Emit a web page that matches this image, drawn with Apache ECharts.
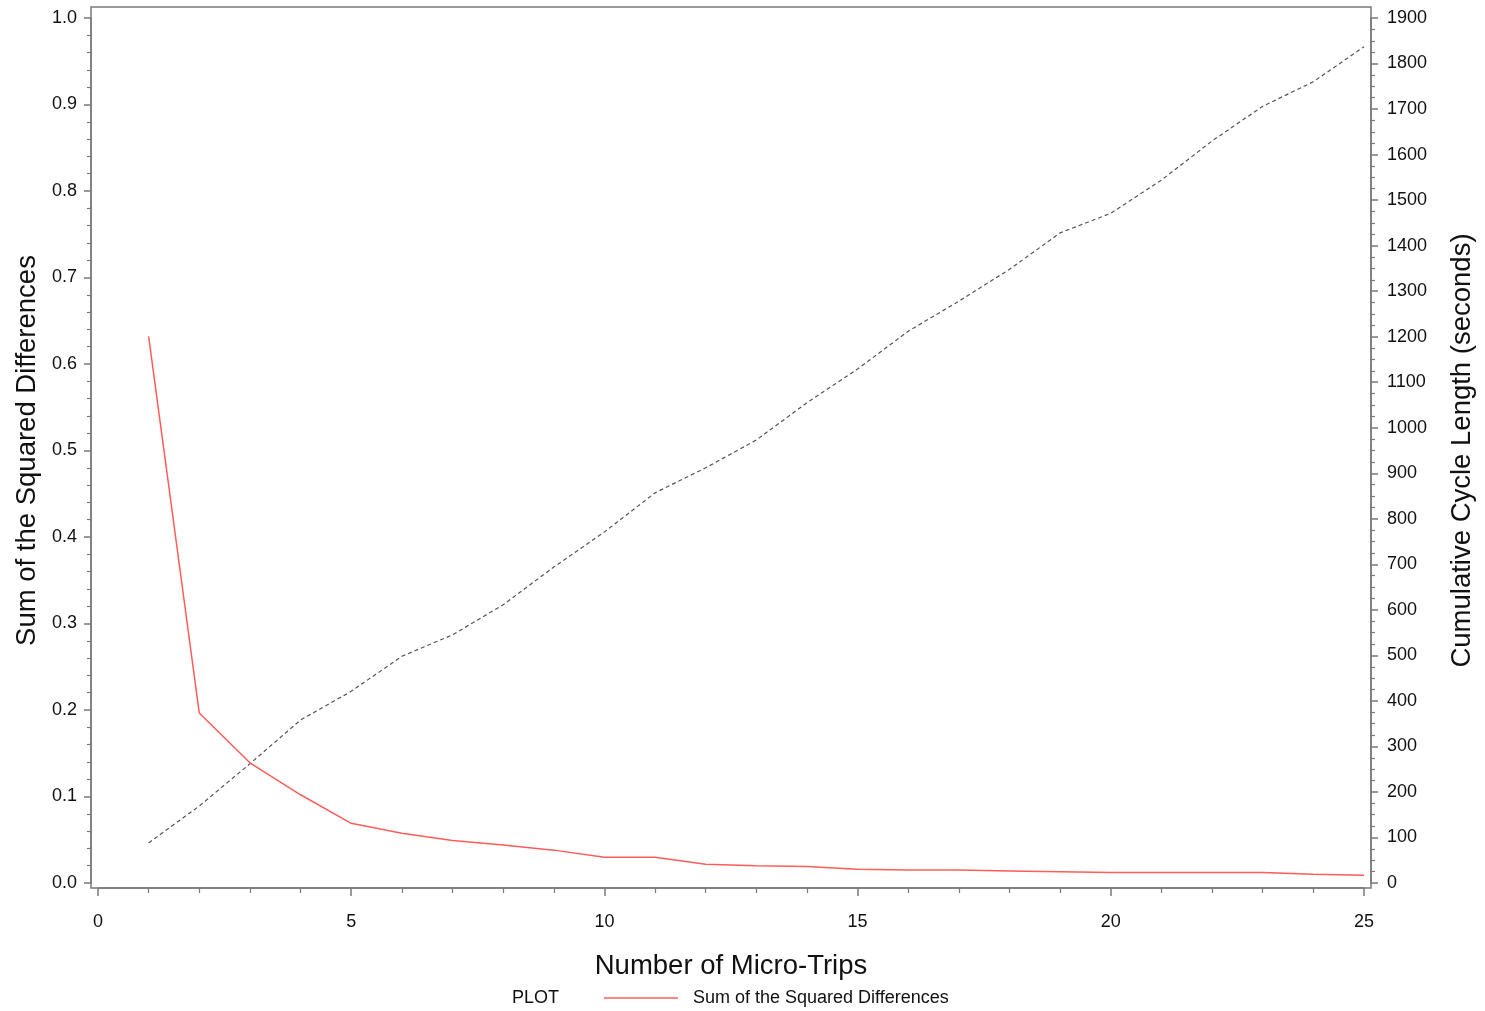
<!DOCTYPE html>
<html>
<head>
<meta charset="utf-8">
<script src="https://cdn.jsdelivr.net/npm/echarts@6/dist/echarts.min.js"></script>
<style>
html,body{margin:0;padding:0;background:#fff;}
#chart{width:1485px;height:1011px;}
</style>
</head>
<body>
<div id="chart"></div>
<script>
var microTrips = [1,2,3,4,5,6,7,8,9,10,11,12,13,14,15,16,17,18,19,20,21,22,23,24,25];
var sumSquaredDiff = [0.632,0.1965,0.139,0.102,0.069,0.0575,0.049,0.044,0.038,0.0297,0.0297,0.0216,0.020,0.019,0.016,0.015,0.015,0.014,0.013,0.012,0.012,0.012,0.012,0.010,0.009];
var cumulativeLength = [88,169,262,358,421,498,545,611,694,771,857,912,973,1055,1129,1212,1278,1348,1428,1471,1544,1630,1706,1760,1837];
var xTicks = [0,5,10,15,20,25];

var font = 'Liberation Sans, Arial, Helvetica, sans-serif';
var chart = echarts.init(document.getElementById('chart'));
var frameColor = '#7a7a7a';

chart.setOption({
  backgroundColor: '#fff',
  animation: false,
  textStyle: {fontFamily: font},
  title: {
    text: 'PLOT', left: 507, top: 984,
    textStyle: {fontFamily: font, fontSize: 18, fontWeight: 'normal', color: '#111'}
  },
  legend: {
    data: [{name: 'Sum of the Squared Differences', icon: 'rect'}],
    left: 599, top: 984,
    itemWidth: 74, itemHeight: 1.5, itemGap: 10,
    textStyle: {fontFamily: font, fontSize: 18, color: '#111', padding: [0,0,0,10]},
    selectedMode: false
  },
  grid: [
    {left: 98, right: 121, top: 18, bottom: 128, show: false},
    {left: 91, right: 114, top: 7, bottom: 123, show: true, borderColor: frameColor, borderWidth: 1.5, backgroundColor: 'transparent', z: 0}
  ],
  xAxis: [
    {
      type: 'value', gridIndex: 0, min: 0, max: 25, interval: 5, offset: 5, position: 'bottom',
      name: 'Number of Micro-Trips', nameLocation: 'middle', nameGap: 64,
      nameTextStyle: {fontFamily: font, fontSize: 27.5, color: '#111'},
      axisLine: {show: true, onZero: false, lineStyle: {color: frameColor, width: 1.5}},
      axisTick: {show: true, length: 8, lineStyle: {color: frameColor, width: 1.5}},
      minorTick: {show: true, splitNumber: 5, length: 5, lineStyle: {color: frameColor, width: 1.2}},
      axisLabel: {margin: 25, fontFamily: font, fontSize: 18, color: '#111',
        formatter: function (v) { return xTicks.indexOf(v) >= 0 ? String(v) : ''; }},
      splitLine: {show: false}
    },
    {type: 'value', gridIndex: 1, show: false, min: 0, max: 1}
  ],
  yAxis: [
    {
      type: 'value', gridIndex: 0, min: 0, max: 1, interval: 0.1, offset: 7, position: 'left',
      name: 'Sum of the Squared Differences', nameLocation: 'middle', nameGap: 47,
      nameTextStyle: {fontFamily: font, fontSize: 27.5, color: '#111'},
      axisLine: {show: true, onZero: false, lineStyle: {color: frameColor, width: 1.5}},
      axisTick: {show: true, length: 7, lineStyle: {color: frameColor, width: 1.5}},
      minorTick: {show: true, splitNumber: 5, length: 4, lineStyle: {color: frameColor, width: 1.2}},
      axisLabel: {margin: 14, fontFamily: font, fontSize: 18, color: '#111',
        formatter: function (v) { return v.toFixed(1); }},
      splitLine: {show: false}
    },
    {
      type: 'value', gridIndex: 0, min: 0, max: 1900, interval: 100, offset: 7, position: 'right',
      name: 'Cumulative Cycle Length (seconds)', nameLocation: 'middle', nameGap: 77,
      nameTextStyle: {fontFamily: font, fontSize: 27.5, color: '#111'},
      axisLine: {show: true, onZero: false, lineStyle: {color: frameColor, width: 1.5}},
      axisTick: {show: true, length: 7, lineStyle: {color: frameColor, width: 1.5}},
      minorTick: {show: true, splitNumber: 4, length: 4, lineStyle: {color: frameColor, width: 1.2}},
      axisLabel: {margin: 16, fontFamily: font, fontSize: 18, color: '#111',
        formatter: function (v) { return String(v); }},
      splitLine: {show: false}
    },
    {type: 'value', gridIndex: 1, show: false, min: 0, max: 1}
  ],
  series: [
    {
      name: 'Sum of the Squared Differences', type: 'line', xAxisIndex: 0, yAxisIndex: 0,
      data: microTrips.map(function (x, i) { return [x, sumSquaredDiff[i]]; }),
      symbol: 'none', color: '#ff5c5c',
      lineStyle: {color: '#ff5c5c', width: 1.5}, z: 3
    },
    {
      name: 'Cumulative Cycle Length', type: 'line', xAxisIndex: 0, yAxisIndex: 1,
      data: microTrips.map(function (x, i) { return [x, cumulativeLength[i]]; }),
      symbol: 'none', color: '#555',
      lineStyle: {color: '#555', width: 1.2, type: [4, 3]}, z: 2
    }
  ]
});
</script>
</body>
</html>
